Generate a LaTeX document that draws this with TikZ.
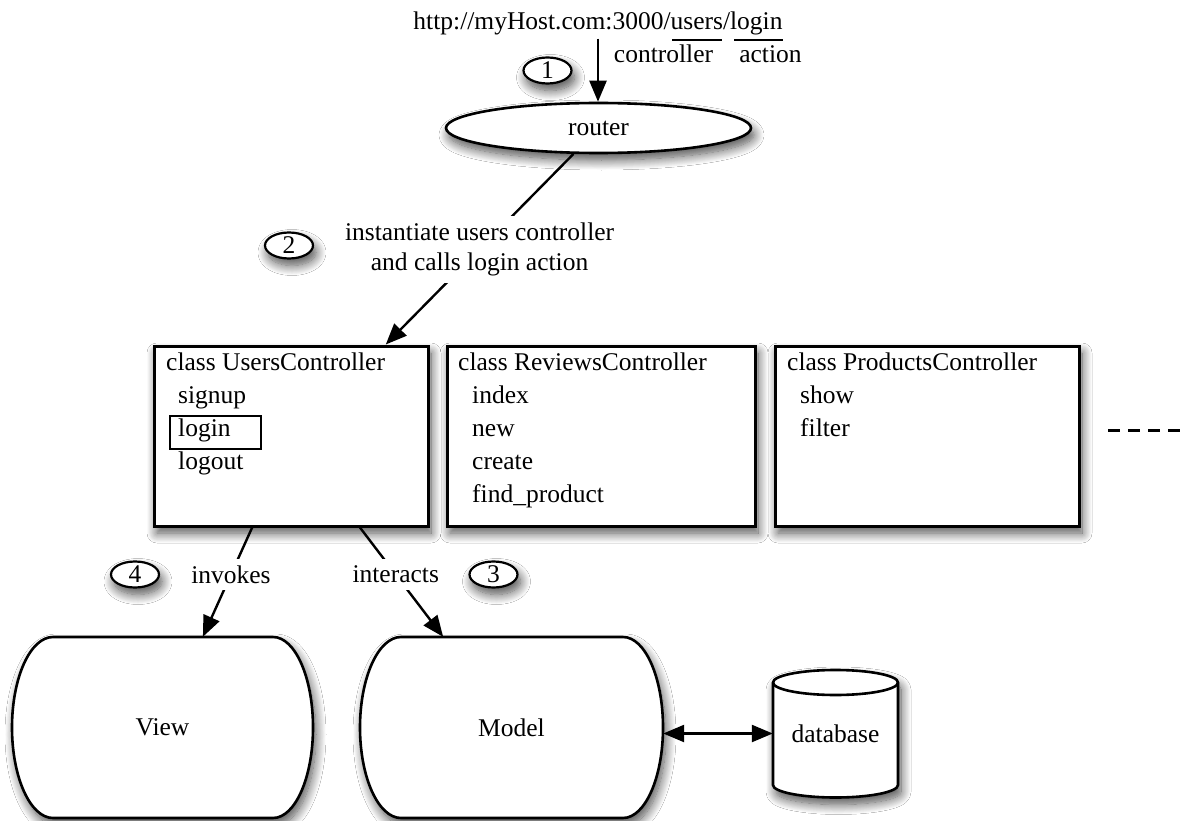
\documentclass[tikz,border=0pt]{standalone}
\usepackage{fontspec}
\setmainfont{Liberation Serif}
\usetikzlibrary{shapes.geometric,arrows.meta,shadows.blur,calc}
\begin{document}
\begin{tikzpicture}[x=1pt,y=-1pt,
  every node/.style={font=\fontsize{25.5pt}{30pt}\selectfont},
  softshadow/.style={blur shadow={shadow xshift=3pt,shadow yshift=-7pt,
      shadow blur radius=10pt,shadow opacity=70,shadow blur steps=14}},
  conn/.style={line width=2.4pt,draw opacity=1,fill opacity=1},
  headtip/.tip={Triangle[length=21pt,width=17pt,fill=black]},
  arr/.style={conn,-headtip},
  dblarr/.style={conn,headtip-headtip},
  outline/.style={draw,line width=2.6pt,fill=white},
  classbox/.style={outline,line width=3pt,softshadow,minimum height=180pt,inner sep=0pt},
  badge/.style={ellipse,outline,line width=2.2pt,softshadow,minimum width=48pt,
      minimum height=26pt,inner sep=0pt},
  member/.style={anchor=base west,inner sep=0pt},
  tag/.style={fill=white,inner xsep=3pt,inner ysep=7pt},
  plain/.style={inner sep=0pt,minimum width=#1,minimum height=181pt},
]
\useasboundingbox[fill=white] (0,0) rectangle (1189,821);

% incoming request and its parts
\node[anchor=base,inner sep=3pt] (url) at (598,30) {http://myHost.com:3000/users/login};
\draw[line width=2pt] (672,40) -- (722,40) (734,40) -- (783,40);
\node[anchor=base,inner sep=0pt] (ctrl) at (663.5,63) {controller};
\node[anchor=base,inner sep=0pt] (act) at (770.5,63) {action};

% router
\node[ellipse,outline,softshadow,minimum width=305pt,minimum height=50pt,inner sep=0pt]
  (router) at (598.5,128) {router};
\node[badge] (n1) at (547.5,70.5) {1};

% controller classes
\node[classbox,minimum width=274pt] (users) at (291,436) {};
\node[classbox,minimum width=308pt] (reviews) at (601,436) {};
\node[classbox,minimum width=304pt] (products) at (927,436) {};

\node[member] (uc) at (166,370) {class UsersController};
\node[member] (usignup) at (178,403) {signup};
\node[draw,line width=2.5pt,minimum width=91pt,minimum height=33pt,inner sep=0pt]
  (loginbox) at (215.5,432.5) {};
\node[member] (ulogin) at (178,436) {login};
\node[member] (ulogout) at (178,469) {logout};

\node[member] (rc) at (458,370) {class ReviewsController};
\node[member] (rindex) at (472,403) {index};
\node[member] (rnew) at (472,436) {new};
\node[member] (rcreate) at (472,469) {create};
\node[member] (rfind) at (472,502) {find\_product};

\node[member] (pc) at (787,370) {class ProductsController};
\node[member] (pshow) at (800,403) {show};
\node[member] (pfilter) at (800,436) {filter};

\draw[line width=3pt,dash pattern=on 12pt off 8pt] (1108,430) -- (1180,430);

\node[badge] (n2) at (289,245.5) {2};

% view and model
\draw[outline,softshadow] (53,637) -- (273,637)
  arc[start angle=90,end angle=-90,x radius=40pt,y radius=90.5pt] -- (53,818)
  arc[start angle=270,end angle=90,x radius=41pt,y radius=90.5pt] -- cycle;
\node[plain=301pt] (view) at (162.5,727.5) {View};

\draw[outline,softshadow] (401,637) -- (623,637)
  arc[start angle=90,end angle=-90,x radius=40pt,y radius=90.5pt] -- (401,818)
  arc[start angle=270,end angle=90,x radius=41pt,y radius=90.5pt] -- cycle;
\node[plain=303pt] (model) at (511.5,727.5) {Model};

% database
\draw[outline,softshadow] (773,682.5) -- (773,785)
  arc[start angle=180,end angle=360,x radius=62.5pt,y radius=12.5pt] -- (898,682.5)
  arc[start angle=0,end angle=180,x radius=62.5pt,y radius=12.5pt] -- cycle;
\draw[line width=2.6pt] (773,682.5)
  arc[start angle=180,end angle=360,x radius=62.5pt,y radius=12.5pt];
\node[inner sep=0pt,minimum width=125pt,minimum height=115pt] (db) at (835.5,733.5)
  {\raisebox{-5.5pt}{database}};

\node[badge] (n4) at (135,574.5) {4};
\node[badge] (n3) at (493.5,574.5) {3};

% connectors
\draw[arr] (url.south) -- (url.south |- router.north);
\draw[arr] (router.226) -- node[tag,align=center] (calls)
  {instantiate users controller\\and calls login action} (users.44);
\draw[dblarr] (model.east |- db.west) -- (db.west);
\draw[arr] (users.247) -- node[tag,pos=0.43] (invokes) {invokes} (view.66);
\draw[arr] (users.307.5) -- node[tag,pos=0.43] (interacts) {interacts} (model.127.5);
\end{tikzpicture}
\end{document}
